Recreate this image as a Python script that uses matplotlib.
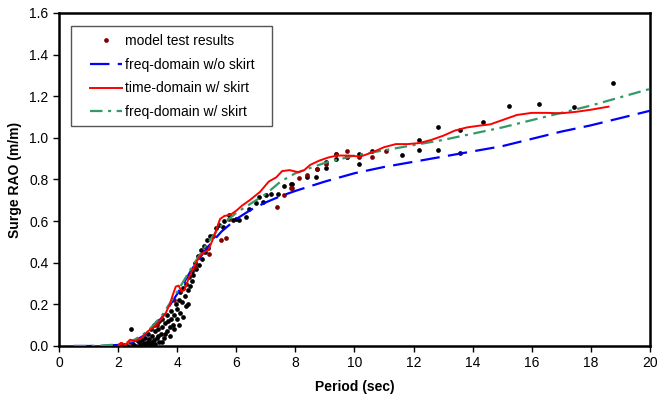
import numpy as np
import matplotlib
matplotlib.use('Agg')
import matplotlib.pyplot as plt
from matplotlib.lines import Line2D
from matplotlib.patches import Rectangle

plt.rcParams['font.family'] = ['Liberation Sans', 'DejaVu Sans']
plt.rcParams['lines.scale_dashes'] = False

# model test results (black)
test_T = [2.3, 2.45, 2.5, 2.6, 2.7, 2.75, 2.8, 2.85, 2.9, 2.95, 3.0, 3.0, 3.05, 3.1, 3.1,
          3.15, 3.2, 3.2, 3.25, 3.3, 3.3, 3.35, 3.4, 3.4, 3.45, 3.5, 3.5, 3.55, 3.6, 3.65,
          3.65, 3.7, 3.75, 3.8, 3.8, 3.85, 3.9, 3.95, 4.0, 4.0, 4.05, 4.1, 4.1, 4.15, 4.2,
          4.25, 4.3, 4.3, 4.35, 4.4, 4.45, 4.5, 4.5, 4.55, 4.6, 4.65, 4.7, 4.75, 4.8, 4.85,
          4.9, 4.95, 5.0, 5.05, 5.1, 5.2, 5.32, 5.4, 5.54, 5.6, 5.77, 5.88, 6.0, 6.1, 6.33,
          6.44, 6.66, 6.78, 6.89, 7.0, 7.17, 7.4, 7.62, 7.85, 7.88, 8.41, 8.69, 8.72, 9.03,
          9.03, 9.36, 9.36, 9.76, 10.15, 10.15, 10.6, 11.61, 12.19, 12.19, 12.83, 12.83,
          13.56, 13.56, 14.35, 15.23, 16.26, 17.42, 18.75,
          2.2, 2.55, 2.65, 2.9, 3.0, 3.15, 3.25, 3.35, 3.5, 3.6, 3.75, 3.9, 4.05, 4.2, 4.35]
test_R = [0.0, 0.08, 0.01, 0.0, 0.02, 0.005, 0.03, 0.01, 0.04, 0.0, 0.02, 0.06, 0.035, 0.08, 0.01,
          0.05, 0.1, 0.03, 0.07, 0.11, 0.04, 0.08, 0.12, 0.02, 0.06, 0.13, 0.09, 0.04, 0.11, 0.15,
          0.07, 0.12, 0.09, 0.17, 0.13, 0.1, 0.15, 0.2, 0.18, 0.13, 0.22, 0.16, 0.26, 0.21, 0.28,
          0.24, 0.3, 0.19, 0.27, 0.33, 0.29, 0.36, 0.31, 0.34, 0.4, 0.37, 0.43, 0.39, 0.46, 0.42,
          0.48, 0.45, 0.51, 0.47, 0.53, 0.53, 0.566, 0.58, 0.574, 0.6, 0.63, 0.606, 0.61, 0.606, 0.62,
          0.66, 0.686, 0.715, 0.69, 0.725, 0.73, 0.73, 0.77, 0.78, 0.777, 0.81, 0.81, 0.85, 0.857,
          0.885, 0.90, 0.92, 0.91, 0.876, 0.92, 0.935, 0.917, 0.99, 0.94, 1.05, 0.944,
          1.037, 0.928, 1.077, 1.155, 1.162, 1.146, 1.264,
          0.005, 0.0, 0.03, 0.015, 0.0, 0.02, 0.01, 0.05, 0.02, 0.06, 0.05, 0.08, 0.1, 0.14, 0.2]

# model test results (dark red)
test2_T = [2.1, 2.4, 3.3, 3.9, 4.6, 5.09, 5.49, 5.65, 5.77, 7.37, 7.62, 7.85, 7.88, 8.13,
           8.41, 8.72, 9.03, 9.36, 9.76, 9.76, 10.15, 10.6, 11.08]
test2_R = [0.01, 0.02, 0.1, 0.22, 0.38, 0.44, 0.51, 0.52, 0.61, 0.67, 0.726, 0.757, 0.76, 0.806,
           0.82, 0.85, 0.875, 0.92, 0.935, 0.91, 0.91, 0.91, 0.935]

# freq-domain w/o skirt
fd_T = [0.5, 1.0, 1.5, 2.0, 2.5, 3.0, 3.5, 4.0, 4.5, 5.0, 5.5, 6.0, 6.5, 7.0, 7.5, 8.0,
        9.0, 10.0, 11.0, 12.0, 13.0, 14.0, 15.0, 16.0, 17.0, 18.0, 19.0, 20.0]
fd_R = [0.0, 0.0, 0.001, 0.005, 0.02, 0.06, 0.14, 0.25, 0.37, 0.47, 0.55, 0.61, 0.655, 0.69,
        0.72, 0.745, 0.79, 0.83, 0.86, 0.885, 0.91, 0.935, 0.96, 0.995, 1.03, 1.06, 1.095, 1.13]

# freq-domain w/ skirt
fds_R = [0.0, 0.0, 0.002, 0.008, 0.025, 0.07, 0.15, 0.26, 0.38, 0.49, 0.58, 0.64, 0.685, 0.73,
         0.79, 0.83, 0.88, 0.915, 0.94, 0.965, 0.99, 1.02, 1.05, 1.085, 1.12, 1.155, 1.195, 1.235]

# time-domain w/ skirt
td_T = [2.0, 2.1, 2.25, 2.4, 2.6, 2.8, 3.0, 3.2, 3.4, 3.6, 3.75, 3.85, 3.95, 4.05, 4.15, 4.25,
        4.4, 4.6, 4.76, 4.9, 5.05, 5.2, 5.35, 5.45, 5.6, 5.8, 6.0, 6.2, 6.45, 6.8, 7.1, 7.35,
        7.55, 7.8, 8.1, 8.3, 8.5, 8.8, 9.1, 9.4, 9.8, 10.2, 10.6, 11.0, 11.4, 11.8, 12.2, 12.6,
        13.0, 13.4, 13.8, 14.2, 14.6, 15.0, 15.5, 16.0, 16.5, 17.0, 17.5, 18.0, 18.6]
td_R = [0.0, 0.015, 0.005, 0.03, 0.025, 0.04, 0.07, 0.09, 0.12, 0.155, 0.2, 0.245, 0.285, 0.29,
        0.26, 0.27, 0.33, 0.39, 0.43, 0.45, 0.46, 0.51, 0.57, 0.61, 0.625, 0.63, 0.65, 0.675,
        0.70, 0.74, 0.79, 0.81, 0.84, 0.845, 0.835, 0.845, 0.87, 0.89, 0.905, 0.915, 0.915, 0.91,
        0.93, 0.955, 0.97, 0.97, 0.975, 0.99, 1.01, 1.035, 1.05, 1.058, 1.065, 1.085, 1.11, 1.12,
        1.12, 1.118, 1.125, 1.135, 1.15]

fig = plt.figure(figsize=(6.58, 4.05), dpi=100)
ax = fig.add_axes([0.0897, 0.1457, 0.898, 0.8223])

ax.plot(test_T, test_R, 'o', color='black', ms=3.4, mec='none', zorder=3)
ax.plot(test2_T, test2_R, 'o', color='#800000', ms=3.4, mec='none', zorder=3)
ax.plot(fd_T, fd_R, color='#0000ff', lw=1.6, dashes=(14, 6), zorder=4)
ax.plot(td_T, td_R, color='#ff0000', lw=1.4, zorder=5)
ax.plot(fd_T, fds_R, color='#339966', lw=1.6, dashes=(9, 4, 2.2, 4), zorder=4)

ax.set_xlim(0, 20)
ax.set_ylim(0, 1.6)
ax.set_xticks(np.arange(0, 21, 2))
ax.set_yticks(np.arange(0, 1.61, 0.2))
ax.set_yticklabels([f'{v:.1f}' for v in np.arange(0, 1.61, 0.2)])
ax.tick_params(direction='out', length=4, width=1, labelsize=10, colors='black')
for s in ax.spines.values():
    s.set_linewidth(1.8)

ax.set_xlabel('Period (sec)', fontsize=10, fontweight='bold', labelpad=7)
ax.set_ylabel('Surge RAO (m/m)', fontsize=10, fontweight='bold', labelpad=5)

# legend box drawn separately so the padding matches
ax.add_patch(Rectangle((0.0202, 0.661), 0.34, 0.3, transform=ax.transAxes,
                       facecolor='white', edgecolor='#555555', lw=1.0, zorder=6))

handles = [
    Line2D([], [], marker='o', color='#800000', ls='none', ms=3.4, mec='none'),
    Line2D([], [], color='#0000ff', lw=1.6, dashes=(14, 6)),
    Line2D([], [], color='#ff0000', lw=1.4),
    Line2D([], [], color='#339966', lw=1.6, dashes=(9, 4, 2.2, 4)),
]
labels = ['model test results', 'freq-domain w/o skirt', 'time-domain w/ skirt',
          'freq-domain w/ skirt']
leg = ax.legend(handles, labels, loc='upper left', bbox_to_anchor=(0.0523, 0.937),
                fontsize=10, frameon=False, handlelength=2.3,
                handletextpad=0.25, labelspacing=0.7, borderpad=0, borderaxespad=0)
leg.set_zorder(7)

fig.savefig('out.png', dpi=100)
